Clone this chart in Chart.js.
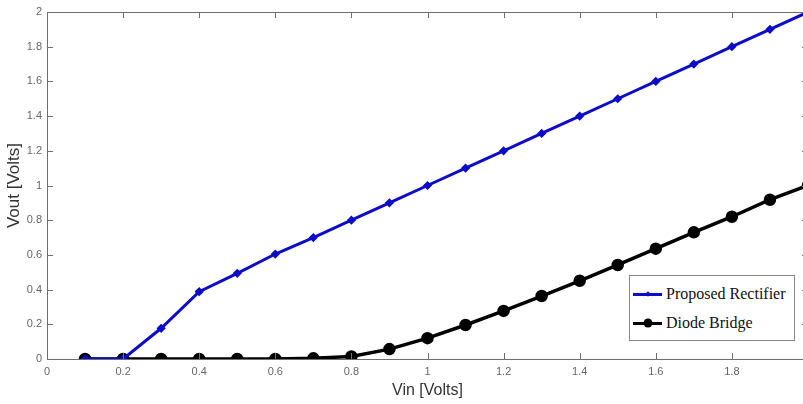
<!DOCTYPE html>
<html>
<head>
<meta charset="utf-8">
<script src="https://cdn.jsdelivr.net/npm/chart.js@4"></script>
<style>
    html, body { margin: 0; padding: 0; background: #fff; overflow: hidden; }
    #wrap { position: relative; width: 816px; height: 404px; }
    #legend {
        position: absolute; left: 629px; top: 275px; width: 164px; height: 64px;
        border: 1px solid #8a8a8a; background: #fff;
        font-family: "Liberation Serif", "Times New Roman", serif; font-size: 16px; color: #111;
    }
    .row { position: absolute; left: 3px; height: 20px; display: flex; align-items: center; white-space: nowrap; }
    .sample { position: relative; width: 29px; height: 20px; margin-right: 4px; }
    .sample .ln { position: absolute; left: 0; right: 0; top: 9px; height: 3px; }
    .sample .mk { position: absolute; left: 50%; top: 50%; }
</style>
</head>
<body>
<div id="wrap">
    <canvas id="vChart"></canvas>
    <div id="legend">
        <div class="row" style="top: 8px;">
            <span class="sample"><span class="ln" style="background:#0c0cc8"></span><span class="mk" style="width:4px;height:4px;background:#0c0cc8;transform:translate(-50%,-50%) rotate(45deg)"></span></span>
            <span>Proposed Rectifier</span>
        </div>
        <div class="row" style="top: 37px;">
            <span class="sample"><span class="ln" style="background:#000"></span><span class="mk" style="width:9px;height:9px;border-radius:50%;background:#000;transform:translate(-50%,-50%)"></span></span>
            <span>Diode Bridge</span>
        </div>
    </div>
</div>
<script>
// ---------------- Data ----------------
const vin = [0.1, 0.2, 0.3, 0.4, 0.5, 0.6, 0.7, 0.8, 0.9, 1.0, 1.1, 1.2, 1.3, 1.4, 1.5, 1.6, 1.7, 1.8, 1.9, 2.0];
const proposedRectifier = [0, 0, 0.177, 0.388, 0.494, 0.605, 0.7, 0.8, 0.9, 1.0, 1.1, 1.2, 1.3, 1.4, 1.5, 1.6, 1.7, 1.8, 1.9, 2.0];
const diodeBridge = [0, 0, 0, 0, 0, 0, 0.004, 0.015, 0.057, 0.12, 0.196, 0.277, 0.363, 0.451, 0.542, 0.636, 0.73, 0.82, 0.918, 1.0];
const tickValues = [0, 0.2, 0.4, 0.6, 0.8, 1, 1.2, 1.4, 1.6, 1.8, 2];

const toPoints = (ys) => vin.map((x, i) => ({ x: x, y: ys[i] }));

// ---------------- Box + inward ticks (MATLAB look) ----------------
const boxTicks = {
    id: 'boxTicks',
    afterDraw(chart) {
        const { ctx, chartArea: a, scales } = chart;
        ctx.save();
        ctx.strokeStyle = '#6e6e6e';
        ctx.lineWidth = 1;
        ctx.beginPath();
        ctx.rect(a.left + 0.5, a.top + 0.5, a.right - a.left, a.bottom - a.top);
        ctx.stroke();
        ctx.beginPath();
        tickValues.forEach(v => {
            const px = Math.round(scales.x.getPixelForValue(v)) + 0.5;
            ctx.moveTo(px, a.bottom); ctx.lineTo(px, a.bottom - 6);
            ctx.moveTo(px, a.top); ctx.lineTo(px, a.top + 6);
            const py = Math.round(scales.y.getPixelForValue(v)) + 0.5;
            ctx.moveTo(a.left, py); ctx.lineTo(a.left + 6, py);
            ctx.moveTo(a.right, py); ctx.lineTo(a.right - 6, py);
        });
        ctx.stroke();
        ctx.restore();
    }
};

const fmt = (v) => String(+Number(v).toFixed(1));

new Chart(document.getElementById('vChart').getContext('2d'), {
    type: 'line',
    data: {
        datasets: [
            {
                label: 'Proposed Rectifier',
                data: toPoints(proposedRectifier),
                borderColor: '#0c0cc8',
                backgroundColor: '#0c0cc8',
                borderWidth: 3,
                pointStyle: 'rectRot',
                pointRadius: 2.5,
                tension: 0
            },
            {
                label: 'Diode Bridge',
                data: toPoints(diodeBridge),
                borderColor: '#000',
                backgroundColor: '#000',
                borderWidth: 3.5,
                pointStyle: 'circle',
                pointRadius: 4.5,
                tension: 0
            }
        ]
    },
    options: {
        animation: false,
        responsive: true,
        maintainAspectRatio: false,
        layout: { padding: { top: 12, right: 3, left: 0, bottom: 0 } },
        plugins: {
            legend: { display: false },
            tooltip: { enabled: false }
        },
        scales: {
            x: {
                type: 'linear', min: 0, max: 2,
                afterFit: (s) => { s.height = 45; },
                grid: { display: false, drawTicks: false },
                border: { display: false },
                ticks: {
                    stepSize: 0.2, padding: 6, color: '#666',
                    font: { family: 'Liberation Sans, Arial, sans-serif', size: 11 },
                    callback: (v) => (v >= 2 ? '' : fmt(v))
                },
                title: {
                    display: true, text: 'Vin [Volts]', color: '#333', padding: { top: 4 },
                    font: { family: 'Liberation Sans, Arial, sans-serif', size: 16 }
                }
            },
            y: {
                type: 'linear', min: 0, max: 2,
                afterFit: (s) => { s.width = 47; },
                grid: { display: false, drawTicks: false },
                border: { display: false },
                ticks: {
                    stepSize: 0.2, padding: 5, color: '#666',
                    font: { family: 'Liberation Sans, Arial, sans-serif', size: 11 },
                    callback: fmt
                },
                title: {
                    display: true, text: 'Vout [Volts]', color: '#333', padding: { bottom: 2 },
                    font: { family: 'Liberation Sans, Arial, sans-serif', size: 17 }
                }
            }
        }
    },
    plugins: [boxTicks]
});
</script>
</body>
</html>
